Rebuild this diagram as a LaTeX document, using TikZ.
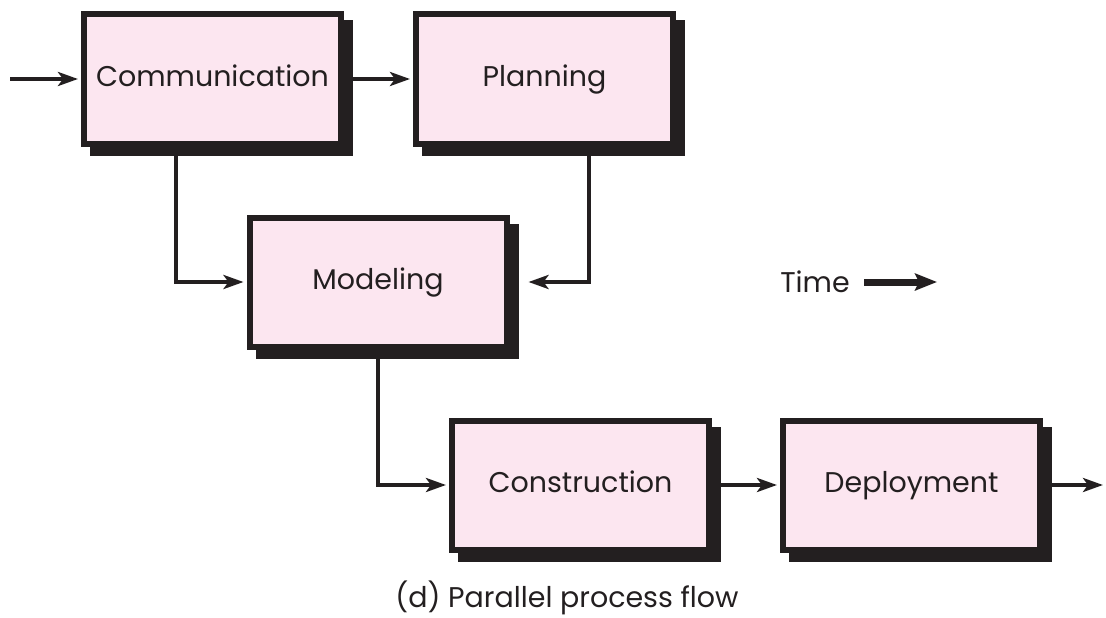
\documentclass[tikz,border=0pt]{standalone}
\usepackage{fontspec}
\setmainfont{Poppins}
\usetikzlibrary{arrows.meta,shadows}
\definecolor{ink}{RGB}{35,31,32}
\definecolor{boxpink}{RGB}{252,230,240}
\begin{document}
\begin{tikzpicture}[x=1pt,y=-1pt,
  lbl/.style={font=\fontsize{28.5}{34}\selectfont, text=ink},
  procbox/.style={lbl, draw=ink, line width=6pt, fill=boxpink,
    minimum width=257pt, minimum height=129pt, inner sep=0pt,
    text height=21pt, text depth=7pt,
    drop shadow={shadow xshift=9pt, shadow yshift=-9pt, fill=ink, draw=ink, line width=6pt, opacity=1}},
  flow/.style={draw=ink, line width=4.5pt, -{Stealth[length=20pt,width=14pt,inset=5pt]}, shorten >=3pt},
]
\useasboundingbox (0,0) rectangle (1106,618);
\node[procbox] (comm) at (212.5,79) {Communication};
\node[procbox] (plan) at (544.5,79) {Planning};
\node[procbox] (model) at (378,282) {Modeling};
\node[procbox] (cons) at (580.5,485) {Construction};
\node[procbox] (depl) at (911.5,485) {Deployment};
\coordinate (start) at (10,79);
\coordinate (finish) at (1106,485);
\draw[flow] (start) -- (comm.west);
\draw[flow] (comm.east) -- (plan.west);
\draw[flow] ([xshift=-36.5pt]comm.south) |- (model.west);
\draw[flow] ([xshift=44.5pt]plan.south) |- ([xshift=16pt]model.east);
\draw[flow] (model.south) |- (cons.west);
\draw[flow] (cons.east) -- (depl.west);
\draw[flow] (depl.east) -- (finish);
\node[lbl] (time) at (815,282) {Time};
\coordinate (timeend) at (937,282);
\draw[ink, line width=7pt, -{Stealth[length=22pt,width=17pt,inset=4pt]}] ([xshift=11pt]time.east) -- (timeend);
\node[lbl] (cap) at (567,598) {(d) Parallel process flow};
\end{tikzpicture}
\end{document}
